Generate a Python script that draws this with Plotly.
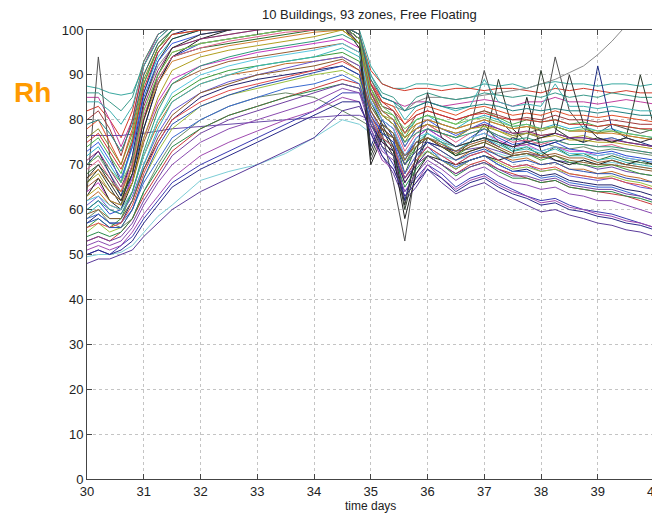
import plotly.graph_objects as go

# time axis (days)
t_days = [30.0, 30.2, 30.4, 30.6, 30.8, 31.0, 31.25, 31.5, 32.0, 32.5, 33.0, 33.5, 34.0, 34.5, 34.8,
          35.0, 35.2, 35.4, 35.6, 35.8, 36.0, 36.25, 36.5, 36.75, 37.0, 37.25, 37.5, 37.75, 38.0,
          38.25, 38.5, 38.75, 39.0, 39.25, 39.5, 39.75, 40.0]

# relative humidity of sampled zones (%)
zone_01 = [87.5,87,86,85.5,86,92,98,101,102,102,102,102,102,102,100,92,88,87,87,88,88,87.5,88,87,88,87.5,88,87,88,88.5,88,88,87.5,88,88,87.5,88]
zone_02 = [82,83,80,76,82,93,99,101,101,100,101,101,101,101,99,91,88,87,86.5,87,87,86.5,87,87,86.5,87,87,86.5,86,87,86.5,87,86.5,86,86.5,86,86]
zone_03 = [85,85,80,74,80,92,99,101,101,101,100,101,101,101,97,88,85,84,83,84,84,83,83.5,84,84.5,84,83,84,84,85,84,84,83.5,84,84.5,84,83.5]
zone_04 = [64,94,72,66,75,88,96,100,101,101,101,101,101,101,100,71,77,66,53,70,78,77,76,78,91,80,77,77,78,94,82,78,77,79,78,77,78]
zone_05 = [70,72,68,64,72,84,92,96,98,99,100,101,101,101,98,86,84,83,82,84,85,85,84.5,85,85.5,86,86.5,87,88,89,90.5,92,94.5,97.5,101,105,109]
zone_06 = [58,60,57,56,58,64,70,75,80,83,85,86,85,82,80,78.5,77,76,70,75,76,75,74,75,76,75,74,74.5,75,74,73.5,74,73,73.5,73,72.5,72]
zone_07 = [49.5,50,50,50.5,52,55,58.5,61,66.5,68.5,70,72.5,76,80,79,77,75.5,74.5,68,72,73,72,71,72,73,72.5,71.5,72,72,71,70.5,71,70,70.5,70,69.5,69]
zone_08 = [76.5,76.5,76.5,76.5,76.8,77,77.5,78,78.5,79,79.5,80,80.5,81,81,80,78,76,72,75,75,74,73,73.5,74,73,72,72.5,72,71,70.5,70,69,69.5,68.5,68,67.5]
zone_09 = [48,49,49,50,51,54,57,60,64,67,70,73,76,82,83,78,72,68,62,65,69,66,63.5,65,66,64,62.5,61,59.5,60,58.8,58,57,56.5,55.5,55,54]
zone_10 = [50,51,50,52,54,58,62,66,70,73,76,79,82,86,86,80,74,70,64,67,70,68,65,67,68,66,64.5,63,62,62.5,61,60,59.5,59,58,57,56]
zone_11 = [53,54,53,55,58,63,68,73,78,81,83,85,87,89,88,80,75,73,66,70,72,70,68,70,71,69,68,67,66,66.5,65,64.5,64,63.5,63,62,61]
zone_12 = [56,58,56,58,64,72,80,85,89,91,92,93,94,95,93,84,79,77,70,74,76,74,72,74,75,73.5,72,72.5,71,72,70.5,70,69.5,70,69,68,67.5]
zone_13 = [60,62,59,60,68,78,88,94,97,98,99,100,101,101,99,85,80,78,71,76,78,76,74,76,78,76,74.5,75,74,75,73.5,73,72.5,73,72,71.5,71]
zone_14 = [66,68,64,62,70,82,90,95,97,98,99,100,100,101,98,86,81,80,74,78,79,77,76,78,79,77.5,76,77,76.5,77,76,76.5,75.5,76,75,74.5,74]
zone_15 = [72,74,70,66,74,86,94,98,100,100,101,101,101,101,99,88,83,82,77,80,81,79,78,80,81,80,78.5,79,78,79,78,78.5,77.5,78,77,76.5,76]
zone_16 = [68,70,67,63,68,80,89,94,96,97,98,99,100,100,97,84,79,77,68,74,77,75,72,75,79,75,73,74,72,74,72,72.5,71,72,71,70.5,70]
zone_17 = [62,64,61,60,64,72,79,84,88,90,91,92.5,93,94,92,82,78,76,70,73,75,73,71,73,74,72,71,71.5,70,70.5,69,69,68,68.5,67.5,67,66]
zone_18 = [57,59,57,57,62,69,75,80,85,87.5,89,90,91,92,90,79,75,73,66,70,73,71,69,71,72,70,68.5,69,67.5,68,66.5,66,65.5,65.5,64.5,64,63]
zone_19 = [64,66,62,61,67,76,84,89,92,93.5,95,96,97,98,96,84,80,78,72,76,78,76,74,76,77,75.5,74,74.5,73,74,73,73,72,72.5,71.5,71,70.5]
zone_20 = [86,86,84,82,85,93,99,101,101,101,101,101,101,101,99,90,86,85,82,85,86,85,84.5,85,86,85.5,85,85.5,85,86,85,85.5,85,86,85.5,85,85]
zone_21 = [70,73,68,63,72,86,95,99,101,101,101,101,101,101,98,74,80,76,62,72,75,74,73,75,76,74,76,75,74,75,76,75,92,78,76,75,74]
zone_22 = [66,69,65,61,70,84,93,98,100,101,101,101,101,101,97,72,78,73,60,70,76,74,72,73,74,89,78,75,91,78,76,75,76,75,76,90,78]
zone_23 = [74,76,72,68,76,88,96,100,101,101,101,101,101,101,99,87,82,81,76,80,81,80,79,81,82,80.5,79,80,79.5,80,79,79.5,78.5,79,78.5,78,77.5]
zone_24 = [78,80,75,70,78,90,97,100,101,101,101,101,101,101,99,89,84,83,79,82,83,82,81,82.5,83,82,81,81.5,81,82,81,81,80.5,81,80.5,80,79.5]
zone_25 = [61,63,60,59,63,70,77,82,86,88.5,90,91.5,93,94,92,82,77,75,68,72,74,72,70,72,73,71,69.5,70,68.5,69,67.5,67,66.5,67,66,65,64.5]
zone_26 = [55,57,55,56,60,67,73,78,83,85.5,87,88.5,90,91,89,81,76,74,67,71,73,71,69,71,72,70.5,69,69.5,68.5,69,68,67.5,67,67.5,66.5,66,65]
zone_27 = [80,82,78,72,80,92,98,101,101,101,101,101,101,101,98,88,83,82,77,81,82,81,80,81,82,81,80,80.5,80,81,80,80,79.5,80,79.5,79,79]
zone_28 = [59,61,58,58,62,70,78,84,88,90,92,93,94,96,94,83,79,77,71,75,77,75,73,75,76,74.5,73,73.5,72.5,73.5,72,72,71,71.5,70.5,70,69.5]
zone_29 = [52,53,52,53,56,61,66,70,75,78,80,82,84,87,86,78,73,71,64,68,71,69,66.5,68.5,69.5,67.5,66,65.5,64.5,65,63.5,63,62,62,61,60,59]
zone_30 = [63,67,62,60,66,78,88,94,98,100,101,101,101,101,96,70,76,72,58,68,72,71,70,71,72,71,72,85,73,71,70,71,70,71,70,71,70]
zone_31 = [76,78,74,70,77,89,96,99,100,100.5,101,101,101,101,98,87,82,80,75,79,80,79,78,79,80,79,78,78.5,77.5,78.5,77.5,77.5,77,77.5,76.5,76,75.5]
zone_32 = [58,59,57,57,60,66,71,76,80,83,85,87,88,90,88,80,76,74,67,71,74,71,69.5,71,72,70,68.5,68.5,67,67.5,66,65.5,65,65,64,63,62]
zone_33 = [69,71,67,64,70,81,89,94,96,97.5,98.5,99.5,100,101,98,85,81,79,73,77,79,77,75,77,78,76.5,75,75.5,74.5,75.5,74.5,74.5,74,74.5,73.5,73,72.5]
zone_34 = [54,55,54,55,58,64,69,74,78,81,83,85,86.5,88,87,79,74,72,65,69,72,70,67.5,69.5,70.5,68.5,67,67,66,66.5,65,64.5,64,64,63,62.5,61.5]
zone_35 = [84,84,82,79,83,92,98,101,101,101,101,101,101,101,99,90,85,84,80,83,84,83,82,83,89,84,83,83.5,83,88,83,83,82.5,83,82.5,82,82]
zone_36 = [65,67,64,62,66,75,83,88,91,93,94,95,96,97,95,83,79,77,71,75,76,74.5,73,74.5,75.5,74,72.5,73,72,72.5,71.5,71.5,70.5,71,70,69.5,69]
zone_37 = [51,52,51,52,55,59,63,67,72,75,77.5,80,82,85,84,77,71,69,63,66,70,67,64.5,66.5,67.5,65.5,64,63,61.5,62,60.5,60,59,58.5,57.5,57,56]
zone_38 = [73,75,71,67,74,85,93,97,99,100,100.5,101,101,101,98,86,82,80,74,78,80,78,76.5,78,79.5,78,76.5,77,76,77,76,76,75.5,76,75,74.5,74]
zone_39 = [56,57,56,57,61,68,75,80,84,86.5,88,89.5,91,93,91,81,76,74,67,71,74,72,70,72,73,71,69.5,70,69,69.5,68,67.5,67,67,66,65.5,64.5]
zone_40 = [62,63,61,60,64,72,80,86,90,92,93.5,94.5,95.5,97,95,84,80,78,72,76,77,75.5,74,76,77,75,73.5,74,73,74,72.5,72.5,72,72.5,71.5,71,70.5]
zone_41 = [67,69,66,64,69,80,88,93,95,96.5,97.5,98.5,99.5,100,97,86,82,80,77,79,80,79,78,79,80,79,78,78.5,78,78.5,77.5,77.5,77,77,76.5,76,75.5]
zone_42 = [71,73,69,65,71,83,91,96,98,99,100,100.5,101,101,98,86,81,79,76,78,79,78,77,78,79,78,77,77.5,76.5,77,76,76,75.5,75.5,75,74.5,74]
zone_43 = [60,62,60,59,64,73,82,88,92,94,95.5,96.5,97.5,99,97,85,81,79,75,77,78,77,76,77,78,76.5,75.5,76,75,75.5,74.5,74.5,74,74,73.5,73,72.5]
zone_44 = [75,77,73,69,75,87,95,99,100,100,101,101,101,101,99,88,84,82,79,81,82,81,80,81,81.5,80.5,80,80,79.5,80,79,79,78.5,79,78.5,78,78]
zone_45 = [57,58,56,56,60,67,74,79,83,85.5,87.5,89,90.5,92,90,81,77,75,70,73,75,73,71,72.5,73.5,72,70.5,71,70,70.5,69,68.5,68,68,67,66.5,66]
zone_46 = [63,65,62,61,66,76,85,91,94,95.5,96.5,97.5,98.5,100,97,85,81,79,76,78,79,78,77,78,78.5,77.5,76.5,77,76,76.5,75.5,75.5,75,75,74.5,74,73.5]
zone_47 = [53,54,53,54,57,62,67,72,77,80,82,84,86,88,87,79,74,72,67,70,72,70,68,69.5,70.5,69,67.5,67.5,66.5,67,65.5,65,64.5,64.5,63.5,63,62]
zone_48 = [79,80,77,73,79,90,97,100,101,101,101,101,101,101,99,89,85,84,82,83,84,83,82.5,83,83.5,83,82,82.5,82,82.5,82,82,81.5,82,81.5,81,81]
zone_49 = [59,60,58,58,62,69,76,81,86,88,90,91,92,93.5,91,82,78,76,72,74,76,74,72.5,74,75,73.5,72,72.5,71.5,72,71,70.5,70,70,69.5,69,68.5]
zone_50 = [67,70,66,62,68,80,90,96,99,100,101,101,101,101,98,73,79,74,61,72,86,76,74,75,76,75,74,75,76,77,90,79,76,75,76,75,76]
zone_51 = [70,72,69,66,71,82,90,95,97,98,99,100,100.5,101,98,87,83,81,78,80,81,80,79,80,80.5,79.5,78.5,79,78,78.5,77.5,78,77.5,77.5,77,76.5,76]
zone_52 = [50,51,50,51,53,57,61,65,69,72,75,78,81,84,84,77,72,69,63,66,69,67,64,66,67,65,63.5,62.5,61,61.5,60,59.5,58.5,58,57,56.5,55.5]

zones = [zone_01, zone_02, zone_03, zone_04, zone_05, zone_06, zone_07, zone_08, zone_09, zone_10,
         zone_11, zone_12, zone_13, zone_14, zone_15, zone_16, zone_17, zone_18, zone_19, zone_20,
         zone_21, zone_22, zone_23, zone_24, zone_25, zone_26, zone_27, zone_28, zone_29, zone_30,
         zone_31, zone_32, zone_33, zone_34, zone_35, zone_36, zone_37, zone_38, zone_39, zone_40,
         zone_41, zone_42, zone_43, zone_44, zone_45, zone_46, zone_47, zone_48, zone_49, zone_50,
         zone_51, zone_52]

x_ticks = [30, 31, 32, 33, 34, 35, 36, 37, 38, 39, 40]
y_ticks = [0, 10, 20, 30, 40, 50, 60, 70, 80, 90, 100]

line_colors = ["#3aa8a0", "#d23a2a", "#c040a0", "#505050", "#8a8a8a", "#6a8a6a", "#7ccdd6", "#6a4aa8",
               "#5a3a9a", "#3a3ab0", "#c83a3a", "#3a9a3a", "#2a4ad0", "#a8a830", "#2ab0c8", "#2a6a2a",
               "#c06a2a", "#20206a", "#c03ac0", "#3a9a8a", "#1a2a80", "#2a3a2a", "#4ab04a", "#e0502a",
               "#6a5ad0", "#9ac040", "#a03a3a", "#3ab8b8", "#8a4ab0", "#202020", "#8a8a2a", "#3a6ad0",
               "#e0608a", "#2a8a4a", "#40b0b0", "#9a5a30", "#a04ab0", "#3a5ae0", "#e04a4a", "#5ac8e0",
               "#d08030", "#902a70", "#2a9a7a", "#d03030", "#2a50b0", "#b0a020", "#7040a0", "#208080",
               "#8a5a2a", "#303030", "#70c060", "#2a2a8a"]

fig = go.Figure()
for i, z in enumerate(zones):
    fig.add_trace(go.Scatter(x=t_days, y=z, mode="lines",
                             line=dict(color=line_colors[i % len(line_colors)], width=1),
                             showlegend=False, hoverinfo="skip"))

axis_font = dict(family="Liberation Sans, Arial, sans-serif", size=13, color="#222222")

fig.update_layout(
    width=652, height=513,
    margin=dict(l=87, r=0, t=30, b=34),
    paper_bgcolor="white", plot_bgcolor="white",
    showlegend=False,
    xaxis=dict(range=[30, 39.956], tickvals=x_ticks, ticks="inside", ticklen=5,
               tickcolor="#444444", showline=True, linecolor="#444444", linewidth=1,
               mirror="ticks", showgrid=True, gridcolor="#c4c4c4", griddash="dot",
               gridwidth=1, zeroline=False, tickfont=axis_font),
    yaxis=dict(range=[0, 100], tickvals=y_ticks, ticks="inside", ticklen=5,
               tickcolor="#444444", showline=True, linecolor="#444444", linewidth=1,
               mirror=False, showgrid=True, gridcolor="#c4c4c4", griddash="dot",
               gridwidth=1, zeroline=False, tickfont=axis_font),
    annotations=[
        dict(text="10 Buildings, 93 zones, Free Floating", xref="paper", yref="paper",
             x=0.5, y=1, yshift=6, xanchor="center", yanchor="bottom", showarrow=False,
             font=dict(family="Liberation Sans, Arial, sans-serif", size=13, color="#222222")),
        dict(text="time days", xref="x", yref="paper", x=35, y=0, yshift=-18,
             xanchor="center", yanchor="top", showarrow=False,
             font=dict(family="Liberation Sans, Arial, sans-serif", size=12, color="#222222")),
        dict(text="40", xref="paper", yref="paper", x=(40 - 30) / (39.956 - 30), y=0, yshift=-3,
             xanchor="center", yanchor="top", showarrow=False, font=axis_font),
        dict(text="<b>Rh</b>", xref="paper", yref="paper", x=-87 / 565 + 33 / 565, y=(100 - (92 - 30) / 4.49) / 100,
             xanchor="center", yanchor="middle", showarrow=False,
             font=dict(family="Liberation Sans, Arial, sans-serif", size=28, color="#ff9a00")),
    ],
)

fig.write_html("out.html")
